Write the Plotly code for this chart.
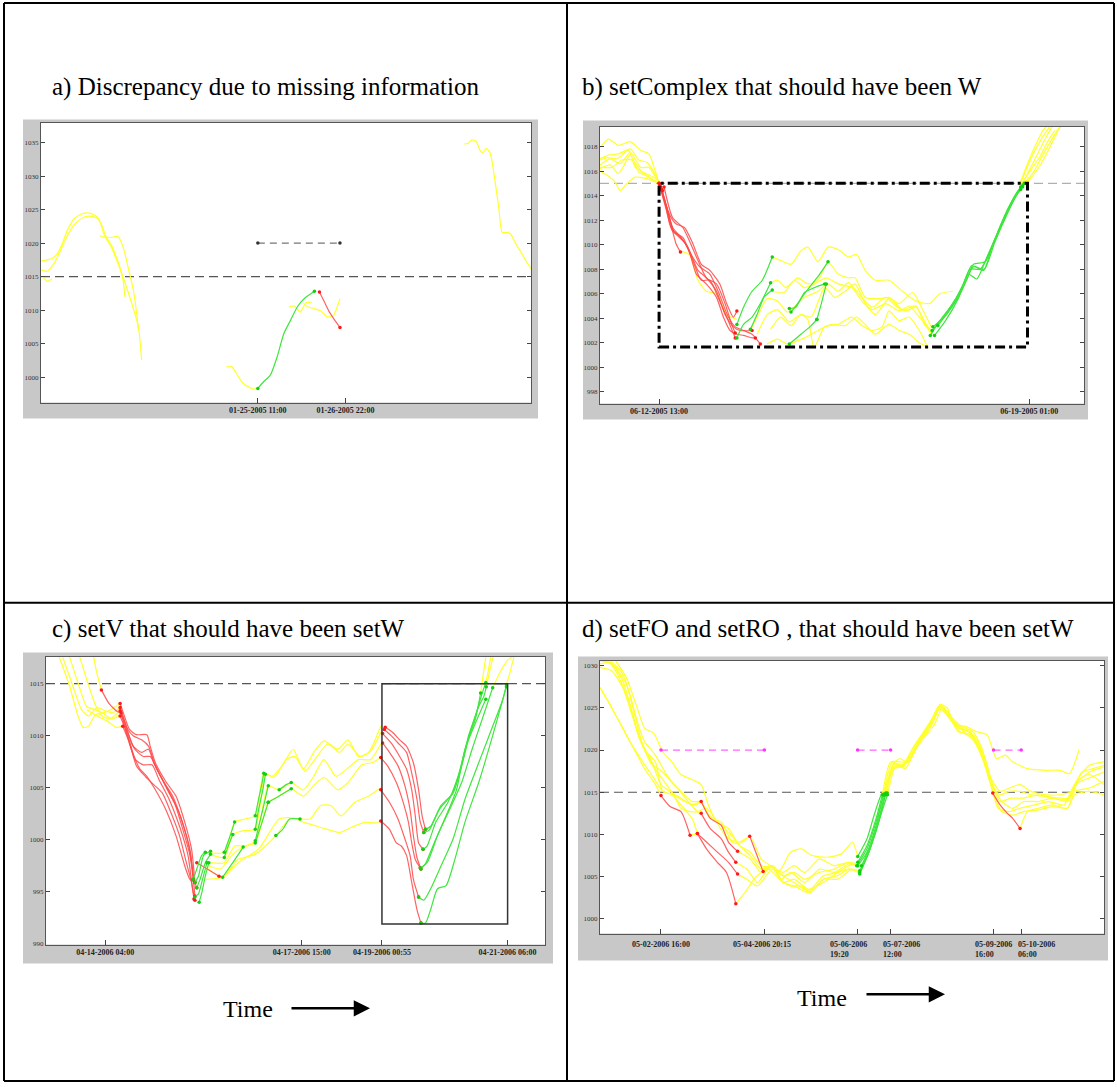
import plotly.graph_objects as go

# ======================= DATA (hours from first labelled tick, pressure hPa) =======================
THRESHOLD = 1015

# ---------- panel a : hours from 01-25-2005 11:00 ----------
A_XTICK_HOURS = [0, 35]
A_XTICK_TEXT = ["01-25-2005 11:00", "01-26-2005 22:00"]
A_YTICKS = [1000, 1005, 1010, 1015, 1020, 1025, 1030, 1035]
A_YELLOW_X = [
    [-86.6, -84.2, -82.2, -80.1, -78.1, -76.1, -73.4, -70.7, -68.6, -66.6, -64.6, -62.6, -60.5, -58.5, -56.5, -55.1, -53.8, -53.1],
    [-86.6, -84.2, -81.5, -78.8, -76.1, -72.7, -69.3, -66.6, -63.6, -61.2, -58.5, -55.8, -53.8, -51.8, -49.7, -47.7, -46.4],
    [-86.6, -85.3, -84.2, -82.8, -82.2],
    [-63.2, -60.5, -57.8, -55.8, -53.8, -51.8, -49.7, -48.4, -47.7],
    [-12.6, -10.5, -8.5, -5.8, -1.8, 0.0],
    [12.4, 14.7, 16.9, 19.2, 21.5],
    [18.2, 19.9, 22.6, 25.0, 27.7, 30.0, 32.8],
    [82.4, 84.1, 85.4, 87.2, 88.8, 89.9, 91.2, 92.6, 93.5, 94.9, 96.2, 97.6, 99.6, 100.9, 103.0, 105.0, 107.0, 109.1],
]
A_YELLOW_Y = [
    [1017.3, 1017.5, 1017.7, 1018.4, 1019.9, 1021.9, 1023.6, 1024.3, 1024.5, 1024.4, 1024.0, 1022.9, 1020.9, 1019.7, 1017.9, 1016.4, 1014.4, 1012.0],
    [1016.0, 1015.8, 1016.9, 1018.9, 1021.1, 1023.0, 1023.9, 1024.0, 1023.6, 1021.1, 1019.4, 1016.9, 1014.9, 1012.7, 1010.2, 1007.5, 1002.5],
    [1015.0, 1014.7, 1014.3, 1014.5, 1014.7],
    [1021.1, 1020.8, 1020.9, 1021.0, 1019.4, 1016.4, 1013.0, 1009.5, 1007.0],
    [1001.5, 1001.6, 1000.5, 999.0, 998.2, 998.3],
    [1010.5, 1010.6, 1009.7, 1011.1, 1011.2],
    [1011.0, 1010.5, 1010.2, 1009.9, 1009.0, 1009.1, 1011.7],
    [1034.8, 1034.9, 1035.4, 1035.2, 1033.8, 1033.5, 1034.1, 1033.6, 1032.3, 1028.8, 1025.4, 1021.6, 1021.6, 1021.4, 1019.9, 1018.7, 1017.4, 1016.2],
]
A_GREEN_X = [[0.0, 2.3, 5.0, 7.7, 10.4, 13.1, 15.8, 18.5, 22.6]]
A_GREEN_Y = [[998.3, 999.3, 1000.3, 1003.0, 1006.5, 1008.5, 1010.5, 1011.7, 1012.8]]
A_RED_X = [[24.6, 26.6, 28.6, 30.7, 32.8]]
A_RED_Y = [[1012.7, 1011.2, 1009.7, 1008.5, 1007.4]]
A_GAP_X = [0.0, 32.8]
A_GAP_LEVEL = 1020

# ---------- panel b : hours from 06-12-2005 13:00 ----------
B_XTICK_HOURS = [0, 156]
B_XTICK_TEXT = ["06-12-2005 13:00", "06-19-2005 01:00"]
B_YTICKS = [998, 1000, 1002, 1004, 1006, 1008, 1010, 1012, 1014, 1016, 1018]
B_BOX = [0.0, 155.3, 1001.65, 1015.0]
B_YELLOW_X = [
    [-24.9, -21.4, -17.1, -12.1, -7.8, -4.3, -2.1, 0.0],
    [-24.9, -21.4, -17.1, -12.1, -8.5, -5.0, -2.1, 0.0],
    [-24.9, -20.7, -16.4, -12.1, -7.8, -4.3, 0.0],
    [-24.9, -20.7, -17.1, -12.1, -8.5, -5.0, 0.0],
    [-24.9, -21.4, -18.5, -16.4, -13.5, -10.0, -5.7, 0.0],
    [-24.9, -19.9, -15.7, -11.4, -7.1, -3.6, 0.0],
    [-24.9, -22.1, -17.8, -12.8, -10.0, -5.7, -1.4, 0.0],
    [8.5, 12.8, 16.4, 19.9, 24.2, 28.5, 32.8],
    [47.7, 51.3, 55.6, 59.8, 62.7, 67.0, 71.2, 75.5, 79.8, 83.3, 86.9, 91.2, 96.9, 102.6, 108.3, 114.0, 118.3, 123.9],
    [47.0, 49.9, 53.4, 58.4, 62.7, 67.0, 71.2, 75.5, 79.8, 82.6, 86.9, 92.6, 96.9, 101.2, 106.9, 111.1, 114.7],
    [47.7, 52.7, 57.0, 61.3, 65.5, 70.5, 75.5, 81.2, 85.5, 89.8, 95.5, 101.2, 105.4, 109.7, 114.7],
    [38.5, 41.3, 45.6, 49.9, 54.1, 58.4, 61.3, 67.0, 71.2, 75.5, 79.8, 84.1, 89.8, 95.5, 99.7, 104.0, 108.3, 112.6, 114.7],
    [41.3, 45.6, 49.9, 54.9, 59.8, 64.1, 69.8, 74.1, 78.4, 82.6, 86.9, 91.2, 96.9, 102.6, 108.3, 111.8, 115.4],
    [47.0, 51.3, 55.6, 59.8, 62.7, 65.3, 69.8, 75.5, 81.2, 85.5, 89.8, 94.0, 96.9, 101.2, 105.4, 109.7, 113.3],
    [45.6, 49.9, 54.1, 61.3, 67.0, 72.7, 78.4, 83.3, 86.9, 91.2, 96.9, 101.2, 105.4, 109.7, 113.7],
    [151.7, 155.3, 158.9, 161.7, 163.1],
    [152.4, 156.0, 159.6, 162.4, 164.6],
    [153.2, 156.7, 160.3, 163.8, 165.6],
    [153.9, 158.1, 161.7, 165.3, 168.1, 169.3],
    [153.2, 157.4, 161.0, 164.6, 167.4, 168.8],
    [152.4, 156.0, 160.3, 163.8, 166.7],
]
B_YELLOW_Y = [
    [1017.9, 1018.6, 1018.1, 1018.4, 1017.7, 1017.4, 1016.3, 1015.0],
    [1017.0, 1017.3, 1017.4, 1017.8, 1016.9, 1016.7, 1015.9, 1015.0],
    [1016.5, 1017.0, 1016.6, 1017.5, 1016.3, 1016.3, 1015.0],
    [1016.2, 1016.5, 1015.8, 1017.3, 1015.9, 1015.6, 1015.0],
    [1016.0, 1015.6, 1015.1, 1014.4, 1015.0, 1015.5, 1015.4, 1015.0],
    [1016.3, 1016.3, 1016.9, 1016.9, 1015.9, 1015.4, 1015.0],
    [1016.9, 1017.1, 1017.0, 1017.7, 1016.3, 1015.8, 1015.4, 1015.0],
    [1009.5, 1009.2, 1007.1, 1006.2, 1006.0, 1004.3, 1003.9],
    [1009.0, 1008.7, 1008.4, 1009.5, 1009.8, 1008.6, 1009.8, 1009.6, 1009.0, 1009.2, 1007.9, 1007.1, 1007.1, 1006.2, 1005.4, 1005.2, 1006.0, 1006.2],
    [1006.9, 1007.1, 1006.5, 1007.3, 1006.8, 1007.1, 1008.6, 1007.6, 1007.3, 1007.3, 1005.7, 1005.6, 1005.7, 1005.2, 1006.1, 1004.7, 1003.3],
    [1006.2, 1006.1, 1007.1, 1006.5, 1006.8, 1007.3, 1006.8, 1006.5, 1005.4, 1004.7, 1005.2, 1004.6, 1005.0, 1004.1, 1003.0],
    [1003.0, 1004.1, 1005.6, 1005.4, 1004.5, 1005.2, 1005.7, 1006.2, 1006.8, 1006.2, 1006.9, 1006.0, 1004.9, 1005.7, 1005.0, 1004.6, 1004.9, 1003.5, 1002.7],
    [1002.7, 1004.3, 1004.7, 1003.7, 1004.3, 1004.1, 1006.5, 1005.7, 1006.2, 1006.8, 1005.2, 1004.3, 1005.6, 1004.7, 1005.0, 1003.5, 1002.7],
    [1003.1, 1004.1, 1003.4, 1004.3, 1003.9, 1001.6, 1003.3, 1003.5, 1004.1, 1003.4, 1003.0, 1003.3, 1004.6, 1003.8, 1004.1, 1003.0, 1001.6],
    [1001.9, 1002.3, 1001.9, 1002.4, 1003.0, 1003.5, 1003.4, 1004.1, 1003.5, 1002.7, 1003.5, 1003.0, 1002.7, 1002.0, 1001.6],
    [1014.8, 1016.6, 1018.2, 1019.3, 1019.6],
    [1015.0, 1016.7, 1018.1, 1019.0, 1019.6],
    [1015.0, 1016.3, 1017.7, 1019.0, 1019.6],
    [1015.0, 1016.0, 1017.3, 1018.5, 1019.4, 1019.6],
    [1014.7, 1015.6, 1016.6, 1017.9, 1019.0, 1019.6],
    [1014.8, 1015.9, 1017.1, 1018.4, 1019.3],
]
B_RED_X = [
    [0.3, 2.8, 5.7, 9.3, 12.8, 16.4, 19.9, 24.2, 27.8, 31.3, 34.2, 39.2],
    [0.7, 3.6, 6.4, 10.7, 14.2, 17.8, 21.4, 24.9, 28.5, 32.1],
    [0.0, 2.8, 5.0, 8.5, 12.1, 15.7, 19.9, 24.2, 27.1, 29.9, 32.8, 35.6, 39.2, 40.6],
    [1.1, 4.3, 7.1, 10.7, 14.2, 17.8, 21.4, 25.6, 28.5, 31.3, 32.8],
    [1.4, 4.3, 7.1, 9.0],
    [0.0, 2.8, 5.7, 10.0, 13.5, 17.1, 21.4, 24.9, 29.2, 32.1, 35.6, 39.2, 42.7],
    [2.1, 5.7, 10.0, 12.8, 16.4, 19.9, 24.2, 27.8, 30.6, 32.1],
]
B_RED_Y = [
    [1014.8, 1013.3, 1011.4, 1010.6, 1009.5, 1007.9, 1007.3, 1006.2, 1004.3, 1003.3, 1003.0, 1003.0],
    [1014.7, 1012.8, 1011.0, 1010.2, 1008.7, 1007.1, 1007.1, 1005.7, 1004.1, 1002.4],
    [1015.0, 1013.2, 1011.4, 1010.7, 1009.8, 1007.6, 1006.8, 1005.7, 1004.1, 1003.0, 1002.7, 1002.6, 1002.4, 1002.4],
    [1014.5, 1012.5, 1011.7, 1011.4, 1010.1, 1008.4, 1007.9, 1006.8, 1005.2, 1004.1, 1004.6],
    [1014.4, 1012.2, 1010.1, 1009.4],
    [1015.0, 1013.0, 1011.1, 1010.6, 1009.2, 1008.2, 1007.6, 1006.2, 1004.1, 1003.3, 1003.0, 1002.7, 1001.9],
    [1014.7, 1012.2, 1011.4, 1010.3, 1008.7, 1007.3, 1006.8, 1005.2, 1003.5, 1002.8],
]
B_GREEN_X = [
    [32.8, 35.6, 39.2, 43.5, 47.7],
    [32.8, 35.6, 39.2, 42.7, 47.0],
    [38.5, 41.3, 44.2, 47.7],
    [54.9, 59.8, 64.1, 66.5],
    [55.6, 58.4, 61.3, 64.1, 67.7, 71.2],
    [54.9, 57.7, 61.3, 65.5, 69.8],
    [66.5, 68.4, 70.5],
    [114.3, 118.3, 123.9, 128.2, 131.8, 136.8, 140.3, 145.3, 149.6, 152.4],
    [115.1, 119.7, 125.4, 129.6, 132.5, 137.5, 141.0, 145.3, 151.0, 153.2],
    [116.1, 120.4, 126.1, 130.4, 133.9, 138.2, 142.5, 146.7, 151.7, 153.9],
    [117.5, 121.8, 126.8, 131.1, 135.4, 139.6, 143.9, 148.2, 152.4],
    [115.4, 121.1, 127.5, 132.5, 137.1, 141.3, 146.0, 150.3, 153.2],
]
B_GREEN_Y = [
    [1003.5, 1004.9, 1006.2, 1007.1, 1009.0],
    [1002.4, 1003.5, 1004.1, 1005.2, 1006.9],
    [1003.1, 1004.3, 1005.7, 1006.3],
    [1001.9, 1002.7, 1003.4, 1003.9],
    [1004.5, 1005.2, 1006.0, 1006.7, 1007.6, 1008.6],
    [1004.8, 1004.9, 1006.1, 1006.5, 1006.8],
    [1003.9, 1005.2, 1006.8],
    [1002.6, 1003.8, 1005.2, 1006.8, 1008.3, 1007.9, 1009.8, 1012.0, 1013.7, 1014.5],
    [1003.0, 1004.1, 1005.7, 1007.1, 1008.4, 1008.6, 1010.2, 1012.2, 1014.3, 1014.8],
    [1002.6, 1003.7, 1005.6, 1007.6, 1007.2, 1009.0, 1010.9, 1012.8, 1014.5, 1015.0],
    [1003.4, 1004.5, 1006.0, 1008.0, 1008.0, 1009.5, 1011.4, 1013.2, 1014.7],
    [1003.3, 1004.3, 1006.2, 1008.2, 1008.0, 1010.1, 1012.2, 1013.9, 1014.7],
]

# ---------- panel c : hours from 04-14-2006 04:00 ----------
C_XTICK_HOURS = [0, 83, 116.92, 170]
C_XTICK_TEXT = ["04-14-2006 04:00", "04-17-2006 15:00", "04-19-2006 00:55", "04-21-2006 06:00"]
C_YTICKS = [990, 995, 1000, 1005, 1010, 1015]
C_BOX = [116.92, 170.0, 991.9, 1015.0]
C_YELLOW_X = [
    [-19.5, -15.1, -11.5, -9.3, -7.1, -4.2, -0.6, 2.3, 6.3],
    [-18.0, -13.7, -10.0, -7.1, -3.5, 0.1, 3.1, 6.3],
    [-15.1, -11.5, -7.8, -4.2, -1.3, 2.3, 6.3],
    [-10.8, -7.8, -4.2, -1.3, 2.3, 6.3],
    [-4.9, -3.5, -1.6],
    [-7.8, -3.5, 0.9, 4.5, 7.4],
    [42.3, 50.3, 54.7, 59.0, 63.4, 67.0, 70.6, 75.0, 79.4, 83.7, 88.1, 92.4, 98.3, 102.6, 107.0, 111.3, 116.4],
    [44.5, 50.3, 53.9, 59.0, 63.4, 67.7, 71.4, 76.5, 80.1, 84.4, 89.5, 93.9, 99.0, 102.6, 107.7, 112.1, 116.4],
    [44.5, 50.3, 54.7, 59.0, 63.4, 67.0, 68.9, 73.5, 78.6, 83.7, 88.1, 92.4, 97.5, 102.6, 107.0, 112.1, 116.4],
    [43.8, 48.8, 53.9, 58.3, 63.4, 68.9, 73.5, 78.6, 83.7, 88.1, 92.4, 98.3, 102.6, 108.4, 112.8, 116.4],
    [43.0, 49.6, 56.1, 63.4, 67.7, 72.1, 77.9, 82.3, 86.6, 91.0, 95.3, 99.7, 105.5, 111.3, 116.4],
    [42.3, 49.6, 56.1, 64.8, 73.5, 79.4, 83.7, 89.5, 93.9, 99.0, 104.1, 109.9, 114.2, 116.4],
    [158.6, 159.6, 160.8],
    [160.8, 161.9, 162.9],
    [161.0, 162.5, 163.9],
    [163.7, 166.6, 170.2, 172.4],
    [169.5, 170.9, 172.7],
]
C_YELLOW_Y = [
    [1017.6, 1014.8, 1011.9, 1010.8, 1010.9, 1012.0, 1012.2, 1012.5, 1013.1],
    [1017.6, 1014.8, 1012.5, 1011.9, 1012.7, 1012.4, 1012.2, 1012.7],
    [1017.6, 1015.1, 1012.8, 1012.5, 1012.2, 1011.7, 1012.4],
    [1017.6, 1015.4, 1013.0, 1011.9, 1011.6, 1011.9],
    [1017.6, 1016.0, 1014.4],
    [1012.5, 1011.9, 1011.4, 1010.8, 1010.9],
    [998.8, 998.8, 1001.7, 1002.0, 1002.3, 1006.4, 1006.1, 1007.2, 1008.7, 1006.8, 1008.4, 1009.5, 1008.7, 1009.6, 1008.0, 1008.4, 1010.9],
    [998.6, 998.3, 1000.5, 1000.9, 1001.0, 1006.3, 1006.0, 1007.7, 1008.0, 1006.6, 1008.0, 1009.2, 1008.4, 1009.2, 1008.0, 1008.5, 1010.3],
    [997.8, 997.8, 999.4, 999.4, 999.9, 1003.7, 1005.2, 1004.8, 1005.5, 1004.8, 1006.1, 1007.7, 1006.1, 1006.9, 1007.7, 1007.7, 1009.2],
    [997.5, 997.2, 998.6, 999.3, 999.7, 1003.6, 1004.2, 1004.9, 1004.2, 1005.2, 1006.0, 1004.8, 1005.5, 1007.2, 1007.4, 1007.9],
    [997.3, 996.4, 998.1, 998.6, 999.4, 1000.4, 1002.0, 1002.0, 1002.0, 1003.3, 1003.3, 1002.3, 1003.6, 1004.2, 1005.0],
    [996.2, 996.4, 997.8, 999.1, 1002.0, 1002.1, 1001.7, 1001.3, 1001.0, 1000.7, 1001.2, 1001.7, 1001.6, 1001.8],
    [1014.1, 1015.7, 1017.6],
    [1015.1, 1016.3, 1017.6],
    [1014.7, 1016.3, 1017.6],
    [1014.6, 1016.0, 1017.3, 1017.6],
    [1014.9, 1016.0, 1017.6],
]
C_RED_X = [
    [-1.6, 1.6, 5.2, 6.7, 9.6, 11.8, 15.4, 18.3, 21.2, 25.6, 29.2, 32.8, 35.8, 37.2],
    [6.3, 8.1, 10.3, 13.2, 17.6, 19.0, 21.2, 25.6, 29.9, 33.6, 36.5, 37.9],
    [6.3, 8.9, 11.8, 15.4, 18.3, 20.5, 24.1, 28.5, 32.1, 35.8, 37.5, 38.7],
    [6.3, 9.3, 12.5, 16.1, 19.0, 21.9, 26.3, 30.7, 34.3, 36.5, 37.9],
    [6.3, 9.6, 12.8, 16.1, 19.8, 22.7, 27.0, 31.4, 35.0, 36.9, 37.9],
    [7.4, 10.3, 13.2, 16.9, 20.5, 24.1, 27.8, 31.4, 34.3, 36.5, 37.5],
    [6.7, 11.0, 14.7, 17.6, 21.2, 25.6, 29.9, 33.6, 35.8, 37.9],
    [38.7, 41.6, 44.5, 48.1],
    [118.3, 121.5, 124.4, 127.3, 130.2, 132.4, 133.9, 135.3],
    [117.9, 120.8, 123.7, 127.3, 129.5, 131.7, 133.1, 134.6],
    [117.2, 120.8, 124.4, 127.3, 129.5, 131.0, 132.4, 134.3],
    [117.2, 120.1, 123.7, 126.6, 128.8, 130.2, 131.7, 133.4],
    [116.4, 119.3, 123.0, 125.9, 128.1, 129.5, 131.0, 133.1],
    [116.4, 120.1, 123.7, 126.6, 128.8, 130.2, 132.4],
    [116.4, 120.1, 123.0, 125.1, 127.3, 129.5, 131.7, 133.4],
]
C_RED_Y = [
    [1014.4, 1013.1, 1012.3, 1012.2, 1010.6, 1010.0, 1009.6, 1009.0, 1007.1, 1005.2, 1003.6, 1001.0, 998.5, 996.2],
    [1013.1, 1011.9, 1010.6, 1010.1, 1010.1, 1009.0, 1007.4, 1005.6, 1004.2, 1001.7, 999.1, 995.9],
    [1012.7, 1010.9, 1009.0, 1008.4, 1008.7, 1007.4, 1005.8, 1004.2, 1002.0, 999.1, 996.2, 995.4],
    [1012.4, 1010.4, 1008.7, 1008.0, 1008.0, 1006.8, 1004.8, 1002.9, 1000.4, 997.8, 994.6],
    [1011.9, 1010.0, 1007.7, 1007.2, 1007.2, 1005.8, 1003.9, 1001.3, 998.5, 995.3, 994.2],
    [1010.9, 1009.3, 1007.1, 1006.1, 1005.3, 1004.5, 1002.6, 1000.4, 997.8, 995.9, 994.3],
    [1012.2, 1008.7, 1006.8, 1006.1, 1004.8, 1002.9, 1000.4, 997.5, 996.2, 995.9],
    [997.8, 997.4, 997.0, 996.5],
    [1010.8, 1010.3, 1009.6, 1009.0, 1007.4, 1004.8, 1002.3, 1001.0],
    [1010.6, 1010.0, 1009.3, 1008.4, 1006.4, 1003.9, 1001.7, 1000.7],
    [1010.2, 1009.3, 1008.0, 1006.8, 1004.8, 1002.3, 999.7, 999.1],
    [1009.3, 1008.4, 1007.1, 1005.2, 1002.9, 1000.4, 998.3, 997.2],
    [1007.9, 1007.1, 1005.5, 1003.6, 1001.7, 999.7, 998.1, 997.3],
    [1004.8, 1003.6, 1002.0, 1000.1, 998.5, 996.2, 994.5],
    [1001.8, 1001.0, 999.7, 999.4, 998.5, 995.9, 993.3, 992.0],
]
C_GREEN_X = [
    [37.2, 38.7, 40.8, 42.3],
    [37.9, 39.4, 41.6, 44.5],
    [38.7, 40.1, 42.3, 44.5],
    [37.9, 39.4, 40.8, 43.0],
    [39.7, 40.8, 42.3, 43.8],
    [50.3, 52.5, 54.7],
    [50.3, 52.0, 53.9],
    [63.4, 64.8, 66.6, 67.7],
    [63.4, 64.8, 66.3, 67.0],
    [63.4, 65.6, 67.0, 68.9],
    [63.4, 66.3, 68.9],
    [68.9, 73.5, 78.6],
    [72.1, 75.0, 77.9, 82.3],
    [73.5, 76.5, 78.6],
    [49.6, 53.9, 58.3],
    [135.3, 137.5, 141.9, 147.0, 150.6, 153.5, 156.4, 159.3, 160.8],
    [134.6, 136.8, 141.1, 146.5, 150.9, 154.2, 157.8, 160.0, 161.0],
    [134.3, 136.0, 139.7, 144.8, 149.1, 152.8, 156.4, 158.6],
    [133.4, 135.3, 139.0, 144.0, 148.4, 152.0, 156.4, 160.8],
    [133.1, 136.0, 140.4, 145.5, 150.6, 155.0, 159.3, 163.7],
    [132.4, 134.6, 137.5, 141.9, 147.0, 152.0, 157.8, 163.7, 168.0, 169.5],
    [133.4, 135.3, 137.5, 140.4, 144.0, 147.7, 152.0, 157.8, 163.7, 169.5],
]
C_GREEN_Y = [
    [996.2, 997.2, 998.5, 998.8],
    [995.9, 996.5, 998.5, 998.9],
    [995.4, 996.2, 997.8, 998.6],
    [994.5, 994.8, 995.9, 997.8],
    [994.0, 994.9, 996.5, 997.8],
    [998.8, 1000.2, 1001.7],
    [998.3, 999.4, 1000.5],
    [1001.0, 1002.9, 1004.8, 1006.3],
    [1002.3, 1003.9, 1005.5, 1006.4],
    [999.9, 1002.0, 1003.3, 1005.2],
    [999.7, 1001.7, 1003.6],
    [1003.6, 1004.2, 1004.9],
    [1000.4, 1001.0, 1002.0, 1002.0],
    [1004.8, 1005.3, 1005.5],
    [996.4, 997.8, 999.3],
    [1001.0, 1001.3, 1003.3, 1004.5, 1007.1, 1010.0, 1011.9, 1014.1, 1015.1],
    [1000.7, 1000.9, 1002.9, 1004.4, 1007.4, 1010.3, 1012.8, 1013.8, 1014.7],
    [999.1, 999.4, 1001.7, 1003.6, 1006.1, 1009.3, 1011.6, 1014.1],
    [997.2, 997.7, 999.7, 1002.3, 1004.8, 1008.7, 1011.2, 1013.5],
    [997.3, 997.8, 1000.4, 1002.9, 1005.5, 1008.7, 1011.6, 1014.6],
    [994.5, 994.2, 995.3, 997.5, 1000.1, 1003.9, 1007.4, 1010.9, 1013.5, 1014.9],
    [992.0, 992.0, 993.3, 995.3, 995.6, 998.1, 1001.7, 1005.5, 1010.0, 1014.7],
]

# ---------- panel d : hours from 05-02-2006 16:00 ----------
D_XTICK_HOURS = [0, 52.25, 99.33, 116, 168, 182]
D_XTICK_TEXT = ["05-02-2006 16:00", "05-04-2006 20:15", "05-06-2006<br>19:20",
                "05-07-2006<br>12:00", "05-09-2006<br>16:00", "05-10-2006<br>06:00"]
D_YTICKS = [1000, 1005, 1010, 1015, 1020, 1025, 1030]
D_GAP_X = [[0, 52.25], [99.33, 116], [168, 182]]
D_GAP_LEVEL = 1020
D_YELLOW_X = [
    [-23.0, -17.5, -12.0, -8.3, -3.7, 0.9, 5.5, 10.1, 15.7, 20.3, 23.9, 28.5, 34.1, 39.6, 45.1, 50.6, 55.2, 59.9, 65.4, 70.9, 76.4, 83.8, 91.2, 96.7, 99.4],
    [114.2, 116.9, 120.6, 124.3, 128.9, 132.6, 137.2, 140.9, 144.6, 148.3, 153.8, 159.3, 164.8, 169.4, 174.0, 177.7, 185.1, 194.3, 201.7, 206.3, 211.2],
    [-28.5, -23.0, -17.5, -12.9, -9.2, -4.6, 0.0, 4.6, 10.1, 15.7, 20.3, 24.9, 30.4, 35.9, 39.6, 44.8],
    [51.6, 56.2, 60.8, 65.4, 72.7, 80.1, 87.5, 94.8, 99.4],
    [112.3, 116.9, 121.5, 126.2, 131.7, 137.2, 141.3, 145.5, 150.1, 155.6, 161.1, 166.7, 171.3, 175.9, 181.4, 186.9, 194.3, 201.7, 206.3, 210.9, 216.4, 223.8],
    [-30.8, -24.9, -19.3, -14.7, -11.0, -7.4, -2.8, 0.9, 6.4, 12.0, 17.5, 20.3],
    [38.7, 45.1, 50.6, 56.2, 61.7, 67.2, 74.6, 82.0, 89.3, 94.8, 100.4],
    [113.3, 117.9, 122.5, 127.1, 131.7, 137.2, 141.3, 146.4, 151.9, 157.5, 163.0, 167.6, 172.2, 177.7, 183.2, 190.6, 198.0, 205.3, 210.9, 216.4, 223.8],
    [-30.8, -24.9, -19.3, -15.7, -12.0, -8.3, -2.8, 2.8, 8.3, 13.8, 18.4, 20.3],
    [37.8, 43.3, 48.8, 54.3, 59.9, 65.4, 70.9, 75.5, 82.0, 89.3, 94.8, 100.4],
    [114.4, 118.8, 123.4, 128.0, 132.6, 138.1, 141.8, 147.3, 152.9, 158.4, 163.0, 166.7, 170.3, 175.9, 181.4, 188.8, 196.1, 203.5, 209.0, 216.4, 223.8],
    [-30.8, -24.9, -19.3, -13.8, -8.3, -2.8, 0.0],
    [14.7, 18.4],
    [37.8, 42.4, 47.0, 50.6, 56.2, 61.7, 67.2, 74.6, 82.0, 89.3, 94.8, 99.4],
    [111.8, 116.0, 120.6, 125.2, 129.8, 134.4, 140.0, 144.6, 150.1, 155.6, 160.2, 164.8, 167.6],
    [181.4, 185.1, 190.6, 198.0, 205.3, 209.0, 216.4, 223.8],
    [-30.8, -26.7, -21.2, -15.7, -12.0, -8.3, -3.7, 0.9, 6.4, 10.1, 15.7, 20.3, 23.0, 28.5, 34.1, 39.6, 45.1, 50.6, 56.2, 61.7, 67.2, 72.7, 80.1, 87.5, 94.8, 101.3],
    [113.6, 117.9, 122.5, 127.1, 131.7, 137.2, 140.9, 146.4, 151.9, 157.5, 162.1, 166.7, 171.3, 175.9, 181.4, 186.9, 194.3, 201.7, 207.2, 212.7, 218.2, 223.8],
    [-30.8, -24.9, -19.3, -14.7, -10.1, -5.5, -0.9, 2.8, 6.4, 10.1, 14.7, 18.4, 23.0, 28.5, 34.1, 39.6, 45.1, 50.6, 56.2, 61.7, 67.2, 72.7, 80.1, 87.5, 94.8, 98.9],
    [112.7, 117.3, 121.5, 126.2, 130.8, 136.3, 140.5, 145.5, 150.1, 156.5, 162.1, 166.7, 171.3, 176.8, 183.2, 190.6, 198.0, 205.3, 209.9, 216.4, 223.8],
    [-30.8, -26.7, -21.2, -15.7, -9.2, -3.7, 0.9, 5.5, 10.1, 15.7, 18.4],
    [38.7, 43.3, 48.8, 56.2, 61.7, 67.2, 74.6, 82.0, 89.3, 96.7, 100.4],
    [112.9, 116.9, 121.5, 126.2, 130.8, 136.3, 140.9, 145.5, 151.0, 156.5, 163.0, 167.6, 172.2, 177.7, 183.2, 190.6, 198.0, 205.3, 209.0, 216.4, 223.8],
]
D_YELLOW_Y = [
    [1030.6, 1028.6, 1025.0, 1022.6, 1022.0, 1019.8, 1018.6, 1017.1, 1016.5, 1015.9, 1013.5, 1011.3, 1009.5, 1009.1, 1009.7, 1007.1, 1006.3, 1005.7, 1007.9, 1008.3, 1007.5, 1007.3, 1007.7, 1009.1, 1007.4],
    [1014.9, 1018.2, 1019.0, 1018.6, 1020.2, 1022.0, 1023.8, 1025.4, 1025.0, 1023.0, 1022.8, 1022.2, 1021.8, 1019.0, 1019.4, 1018.6, 1017.8, 1017.6, 1017.6, 1017.2, 1020.0],
    [1030.6, 1029.8, 1027.8, 1023.8, 1020.6, 1018.6, 1015.9, 1015.1, 1014.3, 1013.5, 1013.9, 1011.9, 1011.5, 1009.1, 1008.9, 1009.8],
    [1005.6, 1006.3, 1004.7, 1005.5, 1004.3, 1005.9, 1005.5, 1006.5, 1006.3],
    [1014.7, 1018.6, 1018.0, 1019.8, 1021.8, 1023.8, 1025.4, 1024.2, 1022.8, 1022.2, 1020.2, 1015.9, 1014.7, 1015.1, 1015.1, 1014.7, 1014.5, 1014.3, 1014.3, 1016.7, 1018.2, 1018.6],
    [1030.6, 1030.2, 1028.2, 1024.6, 1021.4, 1019.8, 1018.6, 1015.1, 1014.7, 1013.9, 1013.5, 1013.9],
    [1008.0, 1007.1, 1005.5, 1006.1, 1005.1, 1004.3, 1003.3, 1005.1, 1005.5, 1005.9, 1005.7],
    [1014.7, 1018.0, 1018.0, 1019.8, 1021.4, 1023.2, 1025.2, 1023.8, 1022.6, 1021.8, 1019.0, 1015.9, 1013.9, 1013.1, 1013.9, 1013.9, 1014.3, 1013.9, 1016.3, 1017.4, 1018.0],
    [1030.2, 1030.4, 1029.0, 1026.6, 1023.4, 1021.0, 1019.4, 1017.1, 1015.5, 1013.9, 1012.7, 1012.5],
    [1006.7, 1005.9, 1004.3, 1005.9, 1004.7, 1003.9, 1003.9, 1003.1, 1004.7, 1005.1, 1005.9, 1005.5],
    [1014.7, 1018.2, 1017.8, 1019.8, 1021.4, 1023.0, 1024.8, 1023.4, 1022.2, 1021.0, 1018.6, 1015.9, 1013.1, 1012.7, 1013.1, 1013.5, 1013.9, 1013.5, 1015.9, 1016.7, 1017.4],
    [1027.4, 1025.0, 1022.6, 1020.2, 1017.8, 1015.9, 1014.6],
    [1009.9, 1010.1],
    [1001.8, 1003.1, 1004.7, 1005.5, 1006.3, 1004.3, 1004.7, 1003.5, 1004.3, 1005.5, 1006.3, 1006.7],
    [1014.7, 1018.6, 1018.6, 1018.6, 1020.8, 1022.6, 1024.8, 1024.6, 1022.6, 1022.2, 1021.0, 1018.2, 1014.9],
    [1010.7, 1012.7, 1013.1, 1013.5, 1013.1, 1015.1, 1015.5, 1016.3],
    [1030.6, 1030.6, 1028.6, 1025.4, 1022.2, 1020.2, 1018.2, 1017.4, 1015.9, 1015.1, 1013.9, 1013.9, 1012.7, 1011.5, 1010.7, 1008.7, 1007.9, 1006.3, 1006.1, 1005.5, 1006.3, 1005.5, 1007.1, 1006.3, 1006.7, 1006.3],
    [1014.9, 1018.4, 1018.2, 1020.2, 1021.8, 1023.4, 1025.2, 1024.0, 1022.8, 1022.2, 1020.2, 1016.7, 1015.1, 1015.5, 1015.9, 1015.1, 1014.7, 1014.7, 1015.1, 1017.4, 1017.8, 1018.2],
    [1029.8, 1029.4, 1027.4, 1024.2, 1021.0, 1018.6, 1017.1, 1015.9, 1014.7, 1013.1, 1012.7, 1012.7, 1013.1, 1011.5, 1010.3, 1008.7, 1007.5, 1005.9, 1006.3, 1005.1, 1005.5, 1004.7, 1005.5, 1005.9, 1006.7, 1006.3],
    [1014.8, 1018.2, 1018.2, 1019.4, 1021.2, 1023.2, 1025.2, 1024.0, 1022.2, 1021.8, 1019.8, 1016.3, 1013.9, 1014.3, 1014.3, 1014.7, 1014.3, 1014.1, 1016.3, 1017.1, 1015.9],
    [1027.4, 1025.8, 1023.4, 1021.0, 1018.6, 1016.7, 1015.1, 1014.7, 1013.5, 1011.9, 1010.1],
    [1005.3, 1004.7, 1003.9, 1005.9, 1004.3, 1003.9, 1003.1, 1004.7, 1004.7, 1005.9, 1005.3],
    [1014.7, 1017.8, 1018.0, 1019.0, 1021.0, 1022.8, 1025.0, 1023.8, 1022.2, 1021.6, 1019.0, 1015.1, 1012.7, 1012.3, 1012.7, 1012.9, 1013.3, 1013.1, 1014.7, 1015.1, 1014.7],
]
D_RED_X = [
    [44.8, 47.9, 51.6],
    [20.3, 24.9, 30.4, 34.1, 38.7],
    [20.3, 24.9, 30.4, 34.1, 37.8],
    [0.0, 4.6, 10.1, 14.7],
    [18.4, 23.0, 28.5, 33.1, 37.8],
    [167.6, 171.3, 175.0, 177.7, 181.4],
    [18.4, 23.0, 28.5, 34.1, 38.7],
]
D_RED_Y = [
    [1009.8, 1007.9, 1005.6],
    [1013.9, 1011.9, 1011.1, 1009.1, 1008.0],
    [1012.5, 1010.7, 1009.5, 1007.9, 1006.7],
    [1014.6, 1013.3, 1012.7, 1009.9],
    [1010.1, 1008.3, 1006.7, 1005.5, 1001.8],
    [1014.9, 1013.5, 1012.5, 1011.9, 1010.7],
    [1010.1, 1009.1, 1007.9, 1006.7, 1005.3],
]
D_GREEN_X = [
    [99.4, 104.1, 107.7, 111.4, 114.2],
    [99.4, 104.1, 108.7, 112.3],
    [100.4, 105.0, 109.6, 113.3],
    [100.4, 105.0, 110.5, 114.4],
    [99.4, 104.1, 108.7, 111.8],
    [101.3, 105.9, 110.5, 113.6],
    [98.9, 104.1, 109.2, 112.7],
    [100.4, 104.4, 109.6, 112.9],
]
D_GREEN_Y = [
    [1007.4, 1009.5, 1012.3, 1014.7, 1014.9],
    [1006.3, 1007.9, 1011.1, 1014.7],
    [1005.7, 1007.9, 1011.5, 1014.7],
    [1005.5, 1007.9, 1011.9, 1014.7],
    [1006.7, 1008.7, 1011.9, 1014.7],
    [1006.3, 1008.7, 1011.9, 1014.9],
    [1006.3, 1008.3, 1011.9, 1014.8],
    [1005.3, 1007.5, 1011.1, 1014.7],
]

# ======================= LAYOUT / STYLE =======================
W, H = 1117, 1087
YELLOW = "#ffff2e"
RED = "rgba(255,70,70,0.85)"
GREEN = "#3ee63e"
RED_DOT = "#ff1a1a"
GREEN_DOT = "#10d010"
SERIF = "Liberation Serif"

# pixel boxes: (left, top, right, bottom)
PANELS = {
    1: dict(plot=(41, 123, 531, 404), gray=(23, 120, 538, 420),
            xr=[-86.6, 109.1], yr=[996.2, 1038.0]),
    2: dict(plot=(600, 127, 1084, 405), gray=(583, 121, 1088, 421),
            xr=[-24.9, 179.1], yr=[997.05, 1019.63]),
    3: dict(plot=(46, 659, 545, 948), gray=(23, 655, 553, 967),
            xr=[-25.0, 185.8], yr=[989.94, 1017.6]),
    4: dict(plot=(600, 663, 1104, 937), gray=(578, 659, 1108, 964),
            xr=[-30.8, 223.8], yr=[998.26, 1030.6]),
}


def fx(px):
    return px / W


def fy(py):
    return 1 - py / H


def ax_names(k):
    s = "" if k == 1 else str(k)
    return "x" + s, "y" + s


fig = go.Figure()
shapes = []
annotations = []


def add_group(k, xs_list, ys_list, color, dot_color=None, width=1.2):
    xa, ya = ax_names(k)
    for xs, ys in zip(xs_list, ys_list):
        fig.add_trace(go.Scatter(
            x=xs, y=ys, mode="lines", xaxis=xa, yaxis=ya,
            line=dict(color=color, width=width, shape="spline", smoothing=0.6),
            hoverinfo="skip", showlegend=False))
    if dot_color:
        ex, ey = [], []
        for xs, ys in zip(xs_list, ys_list):
            ex += [xs[0], xs[-1]]
            ey += [ys[0], ys[-1]]
        fig.add_trace(go.Scatter(
            x=ex, y=ey, mode="markers", xaxis=xa, yaxis=ya,
            marker=dict(color=dot_color, size=3.5), hoverinfo="skip", showlegend=False))


def add_gap(k, xs, level, color, dot):
    xa, ya = ax_names(k)
    fig.add_trace(go.Scatter(
        x=xs, y=[level] * len(xs), mode="lines+markers", xaxis=xa, yaxis=ya,
        line=dict(color=color, width=1.3, dash="7px,5px"),
        marker=dict(color=dot, size=3.5), hoverinfo="skip", showlegend=False))


# gray figure areas first, then white plot areas on top of them
for k, p in PANELS.items():
    gl, gt, gr, gb = p["gray"]
    shapes.append(dict(type="rect", xref="paper", yref="paper", x0=fx(gl), x1=fx(gr),
                       y0=fy(gb), y1=fy(gt), layer="below", fillcolor="#c8c8c8",
                       line=dict(width=0)))
for k, p in PANELS.items():
    l, t, r, b = p["plot"]
    shapes.append(dict(type="rect", xref="paper", yref="paper", x0=fx(l), x1=fx(r),
                       y0=fy(b), y1=fy(t), layer="below", fillcolor="white",
                       line=dict(width=0)))


def threshold(k, color):
    xa, ya = ax_names(k)
    shapes.append(dict(type="line", xref=xa + " domain", yref=ya, x0=0, x1=1,
                       y0=THRESHOLD, y1=THRESHOLD, layer="below",
                       line=dict(color=color, width=1.2, dash="9px,5px")))


# panel a
threshold(1, "#555555")
add_group(1, A_YELLOW_X, A_YELLOW_Y, YELLOW)
add_group(1, A_GREEN_X, A_GREEN_Y, GREEN, GREEN_DOT)
add_group(1, A_RED_X, A_RED_Y, RED, RED_DOT)
add_gap(1, A_GAP_X, A_GAP_LEVEL, "#777777", "#333333")

# panel b
threshold(2, "#b0b0b0")
add_group(2, B_YELLOW_X, B_YELLOW_Y, YELLOW)
add_group(2, B_RED_X, B_RED_Y, RED, RED_DOT)
add_group(2, B_GREEN_X, B_GREEN_Y, GREEN, GREEN_DOT)
shapes.append(dict(type="rect", xref="x2", yref="y2", x0=B_BOX[0], x1=B_BOX[1],
                   y0=B_BOX[2], y1=B_BOX[3], layer="above",
                   line=dict(color="black", width=3, dash="10px,4px,3px,4px")))

# panel c
threshold(3, "#555555")
add_group(3, C_YELLOW_X, C_YELLOW_Y, YELLOW)
add_group(3, C_RED_X, C_RED_Y, RED, RED_DOT)
add_group(3, C_GREEN_X, C_GREEN_Y, GREEN, GREEN_DOT)
shapes.append(dict(type="rect", xref="x3", yref="y3", x0=C_BOX[0], x1=C_BOX[1],
                   y0=C_BOX[2], y1=C_BOX[3], layer="above",
                   line=dict(color="#333333", width=1.5)))

# panel d
threshold(4, "#555555")
add_group(4, D_YELLOW_X, D_YELLOW_Y, YELLOW)
add_group(4, D_RED_X, D_RED_Y, RED, RED_DOT)
add_group(4, D_GREEN_X, D_GREEN_Y, GREEN, GREEN_DOT)
for seg in D_GAP_X:
    add_gap(4, seg, D_GAP_LEVEL, "#ff66ff", "#ff33ff")

# axes
XTICKS = {1: (A_XTICK_HOURS, A_XTICK_TEXT), 2: (B_XTICK_HOURS, B_XTICK_TEXT),
          3: (C_XTICK_HOURS, C_XTICK_TEXT), 4: (D_XTICK_HOURS, None)}
YTICKS = {1: A_YTICKS, 2: B_YTICKS, 3: C_YTICKS, 4: D_YTICKS}
layout_axes = {}
for k, p in PANELS.items():
    l, t, r, b = p["plot"]
    s = "" if k == 1 else str(k)
    tv, tt = XTICKS[k]
    layout_axes["xaxis" + s] = dict(
        domain=[fx(l), fx(r)], range=p["xr"], anchor="y" + s,
        tickmode="array", tickvals=tv,
        ticktext=[f"<b>{x}</b>" for x in tt] if tt else [""] * len(tv),
        ticks="inside", ticklen=5, tickcolor="#444", tickangle=0,
        showline=True, linecolor="#555", linewidth=1, mirror=True,
        showgrid=False, zeroline=False,
        tickfont=dict(family=SERIF, size=8, color="#222"))
    layout_axes["yaxis" + s] = dict(
        domain=[fy(b), fy(t)], range=p["yr"], anchor="x" + s,
        tickmode="array", tickvals=YTICKS[k],
        ticks="inside", ticklen=4, tickcolor="#444",
        showline=True, linecolor="#555", linewidth=1, mirror="ticks",
        showgrid=False, zeroline=False,
        tickfont=dict(family=SERIF, size=7, color="#333"))

# panel d tick labels as annotations (manually offset in the original)
D_LABEL_SHIFT = [0, -2, -9, 11, 0, 15]
for hv, txt, sh in zip(D_XTICK_HOURS, D_XTICK_TEXT, D_LABEL_SHIFT):
    annotations.append(dict(x=hv, xref="x4", y=fy(941), yref="paper", text=f"<b>{txt}</b>",
                            showarrow=False, xanchor="center", yanchor="top", align="left",
                            xshift=sh, font=dict(family=SERIF, size=8, color="#222")))

# table frame
for (x0, y0, x1, y1) in [(4, 3, 1114, 3), (4, 1085, 1114, 1085), (4, 3, 4, 1085),
                         (1114, 3, 1114, 1085), (567, 3, 567, 1085), (4, 605, 1114, 605)]:
    shapes.append(dict(type="line", xref="paper", yref="paper", x0=fx(x0), x1=fx(x1),
                       y0=fy(y0), y1=fy(y1), layer="above", line=dict(color="black", width=2)))

# titles
TITLES = [("a) Discrepancy due to missing information", 50, 87),
          ("b) setComplex that should have been W", 580, 87),
          ("c) setV that should have been setW", 50, 631),
          ("d) setFO and setRO , that should have been setW", 580, 631)]
for txt, x, y in TITLES:
    annotations.append(dict(x=fx(x), y=fy(y), xref="paper", yref="paper", text=txt,
                            showarrow=False, xanchor="left", yanchor="middle",
                            font=dict(family=SERIF, size=25, color="black")))

# "Time ->" labels
for cx, cy, a0, a1, ay in [(248, 1013, 290, 370, 1012), (822, 1002, 865, 945, 998)]:
    annotations.append(dict(x=fx(cx), y=fy(cy), xref="paper", yref="paper", text="Time",
                            showarrow=False, xanchor="center", yanchor="middle",
                            font=dict(family=SERIF, size=24, color="black")))
    annotations.append(dict(x=fx(a1), y=fy(ay), xref="paper", yref="paper", text="",
                            showarrow=True, ax=a0 - a1, ay=0, arrowhead=2, arrowsize=1.3,
                            arrowwidth=2.5, arrowcolor="black"))

fig.update_layout(
    width=W, height=H, autosize=False,
    margin=dict(l=0, r=0, t=0, b=0),
    paper_bgcolor="white", plot_bgcolor="white",
    showlegend=False, shapes=shapes, annotations=annotations,
    **layout_axes)

fig.write_html("out.html", config={"displayModeBar": False})

# remove the browser's default page margin so the figure sits at the window origin
with open("out.html", "r", encoding="utf-8") as fh:
    page = fh.read()
page = page.replace("<head>", "<head><style>html,body{margin:0;padding:0;}</style>", 1)
with open("out.html", "w", encoding="utf-8") as fh:
    fh.write(page)
